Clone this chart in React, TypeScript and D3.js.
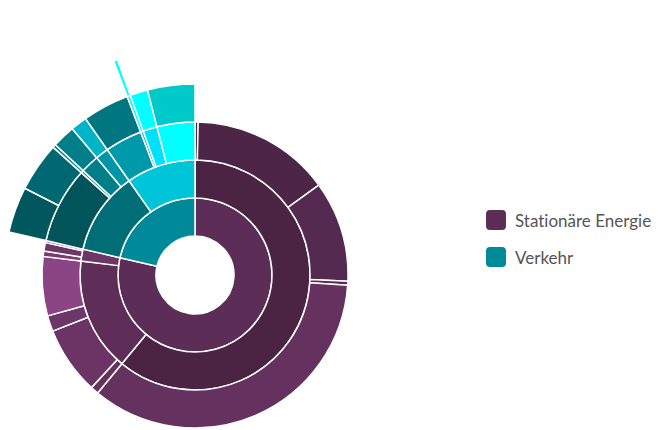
import React from "react";
import * as d3 from "d3";

// Sunburst: sector -> group -> subgroup -> detail -> fine
// values are shares of the total (in %), leaves only

const sectors = ["Stationäre Energie", "Verkehr"];
const sectorColors = ["#5c2d56", "#008a99"];

const groups = [
  ["SE-1", "Stationäre Energie"],
  ["SE-2", "Stationäre Energie"],
  ["SE-3", "Stationäre Energie"],
  ["VK-1", "Verkehr"],
  ["VK-2", "Verkehr"],
];
const groupColors = ["#4a2442", "#5e2d58", "#6d3668", "#006d77", "#00c4d8"];

const subgroups: [string, string, number | null][] = [
  ["SE-1a", "SE-1", 0.33],
  ["SE-1b", "SE-1", 14.67],
  ["SE-1c", "SE-1", 10.64],
  ["SE-1d", "SE-1", 0.42],
  ["SE-1e", "SE-1", 34.92],
  ["SE-2a", "SE-2", 0.86],
  ["SE-2b", "SE-2", 7.19],
  ["SE-2c", "SE-2", 1.67],
  ["SE-2d", "SE-2", 6.25],
  ["SE-3a", "SE-3", 0.56],
  ["SE-3b", "SE-3", 0.89],
  ["SE-3c", "SE-3", 0.22],
  ["VK-1a", "VK-1", null],
  ["VK-1b", "VK-1", null],
  ["VK-1c", "VK-1", null],
  ["VK-1d", "VK-1", null],
  ["VK-2a", "VK-2", null],
  ["VK-2b", "VK-2", null],
  ["VK-2c", "VK-2", null],
  ["VK-2d", "VK-2", null],
];
const subgroupColors = [
  "#4a2442", "#4d2547", "#552a50", "#5a2b55", "#65315f",
  "#65315f", "#6b3465", "#6d3668", "#8b4585",
  "#7a3a72", "#6d3668", "#9b4a93",
  "#00545a", "#00838f", "#007f8a", "#0096a6",
  "#0099aa", "#00c0d0", "#00e0ff", "#00ffff",
];

const details: [string, string, number | null][] = [
  ["VK-1a-1", "VK-1a", 3.89],
  ["VK-1a-2", "VK-1a", 4.17],
  ["VK-1b-1", "VK-1b", 0.28],
  ["VK-1c-1", "VK-1c", 1.94],
  ["VK-1d-1", "VK-1d", 1.39],
  ["VK-2a-1", "VK-2a", 3.94],
  ["VK-2b-1", "VK-2b", null],
  ["VK-2c-1", "VK-2c", 1.5],
  ["VK-2d-1", "VK-2d", 4.0],
];
const detailColors = [
  "#00575e", "#006870", "#00808a", "#007f8a", "#00b4c8",
  "#007780", "#00ffff", "#00ffff", "#00c9c9",
];

const fine: [string, string, number][] = [["VK-2b-1-1", "VK-2b-1", 0.28]];
const fineColors = ["#00ffff"];

const width = 658;
const height = 430;
const cx = 195;
const cy = 275;
const holeRadius = 39;
const ringWidth = 38;

const rows = [
  { id: "root", parent: null, value: 0 },
  ...sectors.map((s) => ({ id: s, parent: "root", value: 0 })),
  ...groups.map(([id, parent]) => ({ id, parent, value: 0 })),
  ...subgroups.map(([id, parent, value]) => ({ id, parent, value: value || 0 })),
  ...details.map(([id, parent, value]) => ({ id, parent, value: value || 0 })),
  ...fine.map(([id, parent, value]) => ({ id, parent, value })),
];

const colorById = new Map<string, string>();
sectors.forEach((s, i) => colorById.set(s, sectorColors[i]));
groups.forEach((g, i) => colorById.set(g[0], groupColors[i]));
subgroups.forEach((g, i) => colorById.set(g[0], subgroupColors[i]));
details.forEach((g, i) => colorById.set(g[0], detailColors[i]));
fine.forEach((g, i) => colorById.set(g[0], fineColors[i]));

const root = d3
  .stratify<any>()
  .id((d) => d.id)
  .parentId((d) => d.parent)(rows)
  .sum((d) => d.value);

d3.partition<any>().size([2 * Math.PI, 1])(root);

const arcGen = d3
  .arc<any>()
  .startAngle((d) => d.x0)
  .endAngle((d) => d.x1)
  .innerRadius((d) => holeRadius + (d.depth - 1) * ringWidth)
  .outerRadius((d) => holeRadius + d.depth * ringWidth);

const nodes = root.descendants().filter((d) => d.depth > 0);

export default function App() {
  return (
    <svg
      width={width}
      height={height}
      style={{ position: "absolute", left: 0, top: 0, background: "#fff" }}
    >
      <g transform={`translate(${cx},${cy})`}>
        {nodes.map((d) => (
          <path
            key={d.id}
            d={arcGen(d) || ""}
            fill={colorById.get(d.id as string)}
            stroke="#fff"
            strokeWidth={1.5}
            strokeLinejoin="round"
          />
        ))}
      </g>
      <g
        fontFamily="Lato, 'Open Sans', sans-serif"
        fontSize={17}
        fill="#555"
        style={{ fontVariantLigatures: "none" }}
      >
        {sectors.map((s, i) => (
          <g key={s} transform={`translate(486,${210 + i * 37})`}>
            <rect width={20} height={20} rx={4} fill={sectorColors[i]} />
            <text x={29} y={17}>
              {s}
            </text>
          </g>
        ))}
      </g>
    </svg>
  );
}
